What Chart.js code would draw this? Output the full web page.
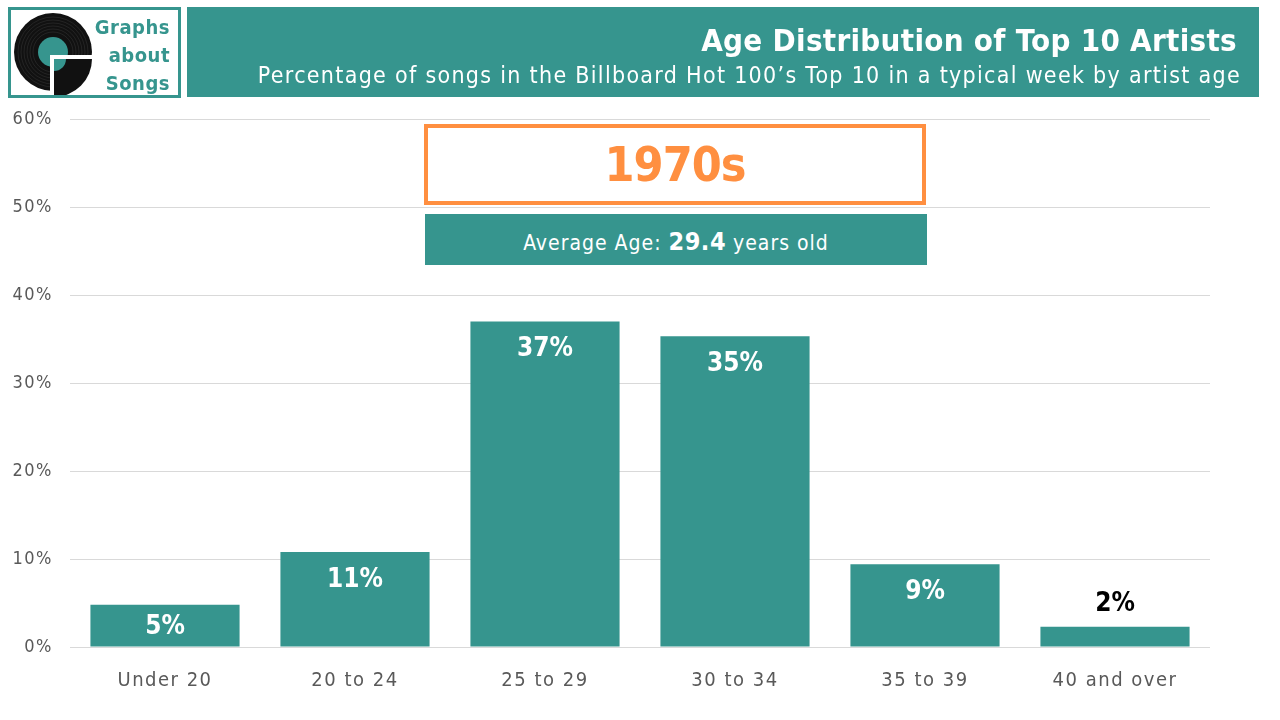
<!DOCTYPE html>
<html>
<head>
<meta charset="utf-8">
<script src="https://cdn.jsdelivr.net/npm/chart.js@4"></script>
<style>
  body { margin: 0; width: 1280px; height: 720px; background: #fff; position: relative; overflow: hidden; font-family: "DejaVu Sans Condensed", "DejaVu Sans", sans-serif; }
  #wrap { position: absolute; left: 0; top: 0; width: 1280px; height: 720px; }
  .abs { position: absolute; box-sizing: border-box; }
  #logo { left: 8px; top: 7px; width: 173px; height: 91px; border: 3px solid #36958E; background: #fff; }
  #logoTxt { right: 8px; top: 3px; text-align: right; color: #36958E; font-weight: bold; font-size: 20px; line-height: 28px; letter-spacing: 0.5px; }
  #banner { left: 187px; top: 7px; width: 1072px; height: 90px; background: #36958E; color: #fff; text-align: right; }
  #title { right: 22px; top: 15px; font-size: 31px; font-weight: bold; white-space: nowrap; letter-spacing: 0.3px; font-family: "Liberation Sans Narrow", "DejaVu Sans Condensed", sans-serif; }
  #subtitle { right: 18px; top: 55px; font-size: 23px; white-space: nowrap; letter-spacing: 1.3px; font-family: "Liberation Sans Narrow", "DejaVu Sans Condensed", sans-serif; }
  #decade { left: 424px; top: 124px; width: 502px; height: 81px; border: 4px solid #FF8F40; text-align: center; color: #FF8F40; font-weight: bold; font-size: 48px; line-height: 72px; letter-spacing: -1px; font-family: "Liberation Sans Narrow", "DejaVu Sans Condensed", sans-serif; }
  #avg { left: 425px; top: 214px; width: 502px; height: 51px; background: #36958E; color: #fff; text-align: center; font-size: 21px; line-height: 55px; letter-spacing: 1px; }
  #avg b { font-size: 25px; letter-spacing: 0.5px; }
</style>
</head>
<body>
<div id="wrap"><canvas id="chart" width="1280" height="720"></canvas></div>
<div id="logo" class="abs">
  <canvas id="vinyl" width="90" height="85" style="position:absolute;left:2px;top:0px"></canvas>
  <div id="logoTxt" class="abs">Graphs<br>about<br>Songs</div>
</div>
<div id="banner" class="abs">
  <div id="title" class="abs">Age Distribution of Top 10 Artists</div>
  <div id="subtitle" class="abs">Percentage of songs in the Billboard Hot 100’s Top 10 in a typical week by artist age</div>
</div>
<div id="decade" class="abs">1970s</div>
<div id="avg" class="abs">Average Age: <b>29.4</b> years old</div>
<script>
const categories = ["Under 20", "20 to 24", "25 to 29", "30 to 34", "35 to 39", "40 and over"];
const shares = [4.8, 10.8, 37.0, 35.3, 9.4, 2.3];
const yTicks = [0, 10, 20, 30, 40, 50, 60];

const teal = "#36958E";

// little vinyl logo
let v = document.getElementById("vinyl").getContext("2d");
v.fillStyle = "#111";
v.beginPath(); v.arc(40, 42, 39, 0, Math.PI * 2); v.fill();
v.strokeStyle = "rgba(255,255,255,0.08)";
for (let r = 20; r < 38; r += 3) { v.beginPath(); v.arc(40, 42, r, 0, Math.PI * 2); v.stroke(); }
v.fillStyle = teal;
v.beginPath(); v.arc(40, 42, 15, 0, Math.PI * 2); v.fill();
v.fillStyle = "#fff";
v.fillRect(37, 45, 53, 45);
v.fillStyle = "#111";
v.beginPath(); v.moveTo(41, 49); v.arc(41, 49, 38, 0, Math.PI / 2); v.closePath(); v.fill();
v.fillStyle = teal;
v.beginPath(); v.moveTo(41, 49); v.arc(41, 49, 12, 0, Math.PI / 2); v.closePath(); v.fill();

// wider tracking for the axis text, like the original
const spacing = {
    id: "spacing",
    beforeDraw(chart) { chart.ctx.letterSpacing = "1.5px"; },
    afterDraw(chart) { chart.ctx.letterSpacing = "0px"; }
};

const barLabels = {
    id: "barLabels",
    afterDatasetsDraw(chart) {
        const c = chart.ctx;
        const meta = chart.getDatasetMeta(0);
        const base = chart.scales.y.getPixelForValue(0);
        c.save();
        c.letterSpacing = "0px";
        c.textAlign = "center";
        c.textBaseline = "middle";
        c.font = "bold 26px 'DejaVu Sans Condensed'";
        meta.data.forEach((bar, i) => {
            const val = shares[i];
            const txt = Math.round(val) + "%";
            if (val >= 4) {
                c.fillStyle = "#fff";
                c.fillText(txt, bar.x, Math.min(bar.y + 28, (bar.y + base) / 2 + 1));
            } else {
                c.fillStyle = "#000";
                c.fillText(txt, bar.x, bar.y - 23);
            }
        });
        c.restore();
    }
};

new Chart(document.getElementById("chart"), {
    type: "bar",
    data: {
        labels: categories,
        datasets: [{
            data: shares,
            backgroundColor: teal,
            barPercentage: 0.785,
            categoryPercentage: 1
        }]
    },
    options: {
        responsive: false,
        animation: false,
        layout: { padding: { left: 0, right: 70, top: 119, bottom: 0 } },
        plugins: { legend: { display: false }, tooltip: { enabled: false } },
        scales: {
            x: {
                grid: { display: false, drawTicks: false },
                border: { display: false },
                ticks: { color: "#595959", font: { family: "DejaVu Sans Condensed", size: 20 }, padding: 22 },
                afterFit: s => { s.height = 73; }
            },
            y: {
                min: 0, max: 60,
                afterBuildTicks: s => { s.ticks = yTicks.map(t => ({ value: t })); },
                grid: { color: "#D9D9D9", lineWidth: 1, drawTicks: false },
                border: { display: false },
                ticks: { color: "#595959", font: { family: "DejaVu Sans Condensed", size: 18 }, padding: 17, callback: v => v + "%" },
                afterFit: s => { s.width = 70; }
            }
        }
    },
    plugins: [spacing, barLabels]
});
</script>
</body>
</html>
